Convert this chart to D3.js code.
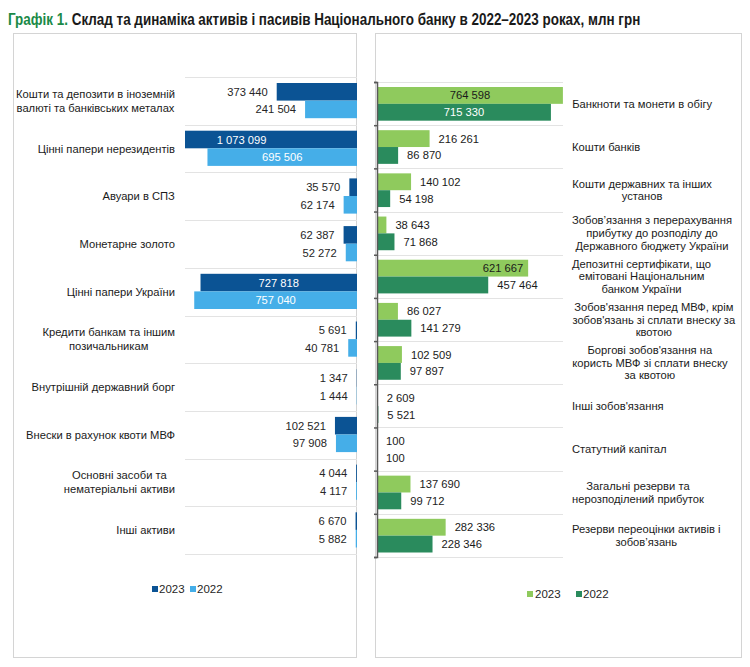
<!DOCTYPE html>
<html>
<head>
<meta charset="utf-8">
<script src="https://cdn.jsdelivr.net/npm/d3@7"></script>
<style>
  body { margin: 0; background: #fff; }
  svg text { font-family: "Liberation Sans", Arial, sans-serif; }
</style>
</head>
<body>
<div id="chart"></div>
<script>
// assets (left panel)
var assetCats = [
  "Кошти та депозити в іноземній|валюті та банківських металах",
  "Цінні папери нерезидентів",
  "Авуари в СПЗ",
  "Монетарне золото",
  "Цінні папери України",
  "Кредити банкам та іншим|позичальникам",
  "Внутрішній державний борг",
  "Внески в рахунок квоти МВФ",
  "Основні засоби та|нематеріальні активи",
  "Інші активи"
];
var assets2023 = [373440, 1073099, 35570, 62387, 727818, 5691, 1347, 102521, 4044, 6670];
var assets2022 = [241504, 695506, 62174, 52272, 757040, 40781, 1444, 97908, 4117, 5882];

// liabilities (right panel)
var liabCats = [
  "Банкноти та монети в обігу",
  "Кошти банків",
  "Кошти державних та інших|установ",
  "Зобов’язання з перерахування|прибутку до розподілу до|Державного бюджету України",
  "Депозитні сертифікати, що|емітовані Національним|банком України",
  "Зобов'язання перед МВФ, крім|зобов'язань зі сплати внеску за|квотою",
  "Боргові зобов'язання на|користь МВФ зі сплати внеску|за квотою",
  "Інші зобов'язання",
  "Статутний капітал",
  "Загальні резерви та|нерозподілений прибуток",
  "Резерви переоцінки активів і|зобов’язань"
];
var liab2023 = [764598, 216261, 140102, 38643, 621667, 86027, 102509, 2609, 100, 137690, 282336];
var liab2022 = [715330, 86870, 54198, 71868, 457464, 141279, 97897, 5521, 100, 99712, 228346];

var years = ["2023", "2022"];
var fmt = function(v) { return d3.format(",")(v).replace(/,/g, " "); };

var svg = d3.select("#chart").append("svg")
  .attr("width", 750)
  .attr("height", 667);

// title (condensed look: squeeze horizontally to the original width)
var title = svg.append("text")
  .attr("x", 0)
  .attr("y", 0)
  .style("font-weight", "bold")
  .style("font-size", "16px");
title.append("tspan").attr("fill", "#1b8a47").text("Графік 1. ");
title.append("tspan").attr("fill", "#1a1a1a").text("Склад та динаміка активів і пасивів Національного банку в 2022–2023 роках, млн грн");
var tw = title.node().getComputedTextLength();
title.attr("transform", "translate(8,24.5) scale(" + (633 / tw) + ",1)");

// panels
svg.append("rect").attr("x", 13.5).attr("y", 33.5).attr("width", 343).attr("height", 624)
  .attr("fill", "none").attr("stroke", "#d4d4d4");
svg.append("rect").attr("x", 375.5).attr("y", 33.5).attr("width", 366).attr("height", 624)
  .attr("fill", "none").attr("stroke", "#d4d4d4");

function multiLabel(g, label, anchorX, cy, side, lh) {
  var lines = label.split("|");
  var t = g.append("text")
    .attr("font-size", "11.2px")
    .attr("fill", "#1a1a1a")
    .attr("text-anchor", "middle");
  lines.forEach(function(l, i) {
    t.append("tspan")
      .attr("x", 0)
      .attr("y", cy + (i - (lines.length - 1) / 2) * lh + 4)
      .text(l);
  });
  var w = t.node().getBBox().width;
  var cx = side === "right" ? anchorX - w / 2 : anchorX + w / 2;
  t.selectAll("tspan").attr("x", cx);
}

// ---------- left panel: assets ----------
var lx0 = 185, lx1 = 357;
var yL = d3.scaleBand().domain(assetCats).range([77, 554]);
var yLin = d3.scaleBand().domain(years).range([6, yL.bandwidth() - 6.5]);
var xL = d3.scaleLinear().domain([0, 800000]).range([0, lx1 - lx0]);
var colL = { "2023": "#0b5394", "2022": "#45aee8" };

svg.append("clipPath").attr("id", "clipL")
  .append("rect").attr("x", lx0).attr("y", 60).attr("width", lx1 - lx0).attr("height", 520);

var left = svg.append("g");

// gridlines
left.selectAll("line.grid")
  .data(assetCats.concat(["end"]))
  .enter().append("line")
  .attr("x1", lx0).attr("x2", lx1)
  .attr("y1", (d, i) => Math.round(77 + i * yL.step()) + 0.5)
  .attr("y2", (d, i) => Math.round(77 + i * yL.step()) + 0.5)
  .attr("stroke", "#e3e3e3");

var leftRows = [];
assetCats.forEach(function(c, i) {
  leftRows.push({ cat: c, year: "2023", v: assets2023[i] });
  leftRows.push({ cat: c, year: "2022", v: assets2022[i] });
});

left.append("g").attr("clip-path", "url(#clipL)")
  .selectAll("rect")
  .data(leftRows)
  .enter().append("rect")
  .attr("x", d => lx1 - xL(d.v))
  .attr("y", d => yL(d.cat) + yLin(d.year))
  .attr("width", d => xL(d.v))
  .attr("height", yLin.bandwidth())
  .attr("fill", d => colL[d.year]);

left.selectAll("text.val")
  .data(leftRows)
  .enter().append("text")
  .attr("class", "val")
  .attr("font-size", "11.2px")
  .attr("x", d => xL(d.v) > 100 ? lx1 - xL(d.v) / 2 : lx1 - xL(d.v) - 9)
  .attr("y", d => yL(d.cat) + yLin(d.year) + yLin.bandwidth() / 2 + 4)
  .attr("text-anchor", d => xL(d.v) > 100 ? "middle" : "end")
  .attr("fill", d => xL(d.v) > 100 ? "#ffffff" : "#262626")
  .text(d => fmt(d.v));

assetCats.forEach(function(c) {
  multiLabel(left, c, 175, yL(c) + yL.bandwidth() / 2, "right", 14);
});

// left legend
var legL = svg.append("g");
years.forEach(function(y, i) {
  legL.append("rect").attr("x", 152 + i * 38).attr("y", 586).attr("width", 6).attr("height", 6).attr("fill", colL[y]);
  legL.append("text").attr("x", 159 + i * 38).attr("y", 593).attr("font-size", "11.5px").attr("fill", "#262626").text(y);
});

// ---------- right panel: liabilities ----------
var rx0 = 377, rx1 = 563;
var yR = d3.scaleBand().domain(liabCats).range([82, 557]);
var yRin = d3.scaleBand().domain(years).range([5, yR.bandwidth() - 4.5]);
var xR = d3.scaleLinear().domain([0, 765000]).range([0, rx1 - rx0]);
var colR = { "2023": "#8fca5d", "2022": "#2a8b5d" };

var right = svg.append("g");

right.selectAll("line.grid")
  .data(liabCats.concat(["end"]))
  .enter().append("line")
  .attr("x1", rx0).attr("x2", rx1)
  .attr("y1", (d, i) => Math.round(82 + i * yR.step()) + 0.5)
  .attr("y2", (d, i) => Math.round(82 + i * yR.step()) + 0.5)
  .attr("stroke", "#e3e3e3");

var rightRows = [];
liabCats.forEach(function(c, i) {
  rightRows.push({ cat: c, year: "2023", v: liab2023[i] });
  rightRows.push({ cat: c, year: "2022", v: liab2022[i] });
});

right.selectAll("rect")
  .data(rightRows)
  .enter().append("rect")
  .attr("x", rx0)
  .attr("y", d => yR(d.cat) + yRin(d.year))
  .attr("width", d => xR(d.v))
  .attr("height", yRin.bandwidth())
  .attr("fill", d => colR[d.year]);

function rLabelX(d) {
  var w = xR(d.v);
  if (w > 170) return rx0 + w / 2;
  if (w > 140) return rx0 + w - 5;
  return rx0 + w + 9;
}
right.selectAll("text.val")
  .data(rightRows)
  .enter().append("text")
  .attr("class", "val")
  .attr("font-size", "11.2px")
  .attr("x", rLabelX)
  .attr("y", d => yR(d.cat) + yRin(d.year) + yRin.bandwidth() / 2 + 4)
  .attr("text-anchor", d => xR(d.v) > 170 ? "middle" : (xR(d.v) > 140 ? "end" : "start"))
  .attr("fill", d => (xR(d.v) > 170 && d.year === "2022") ? "#ffffff" : "#1a1a1a")
  .text(d => fmt(d.v));

// axis line with ticks
var axR = d3.axisLeft(d3.scaleLinear().domain([0, liabCats.length]).range([82, 557]))
  .ticks(liabCats.length)
  .tickSize(3)
  .tickFormat("");
right.append("g")
  .attr("transform", "translate(" + rx0 + ",0)")
  .call(axR)
  .call(g => g.selectAll("path,line").attr("stroke", "#595959").attr("stroke-width", 1.5));

liabCats.forEach(function(c) {
  multiLabel(right, c, 572, yR(c) + yR.bandwidth() / 2, "left", 12.8);
});

// right legend
var legR = svg.append("g");
years.forEach(function(y, i) {
  legR.append("rect").attr("x", 527 + i * 49).attr("y", 591).attr("width", 6).attr("height", 6).attr("fill", colR[y]);
  legR.append("text").attr("x", 535 + i * 48).attr("y", 598).attr("font-size", "11.5px").attr("fill", "#262626").text(y);
});
</script>
</body>
</html>
